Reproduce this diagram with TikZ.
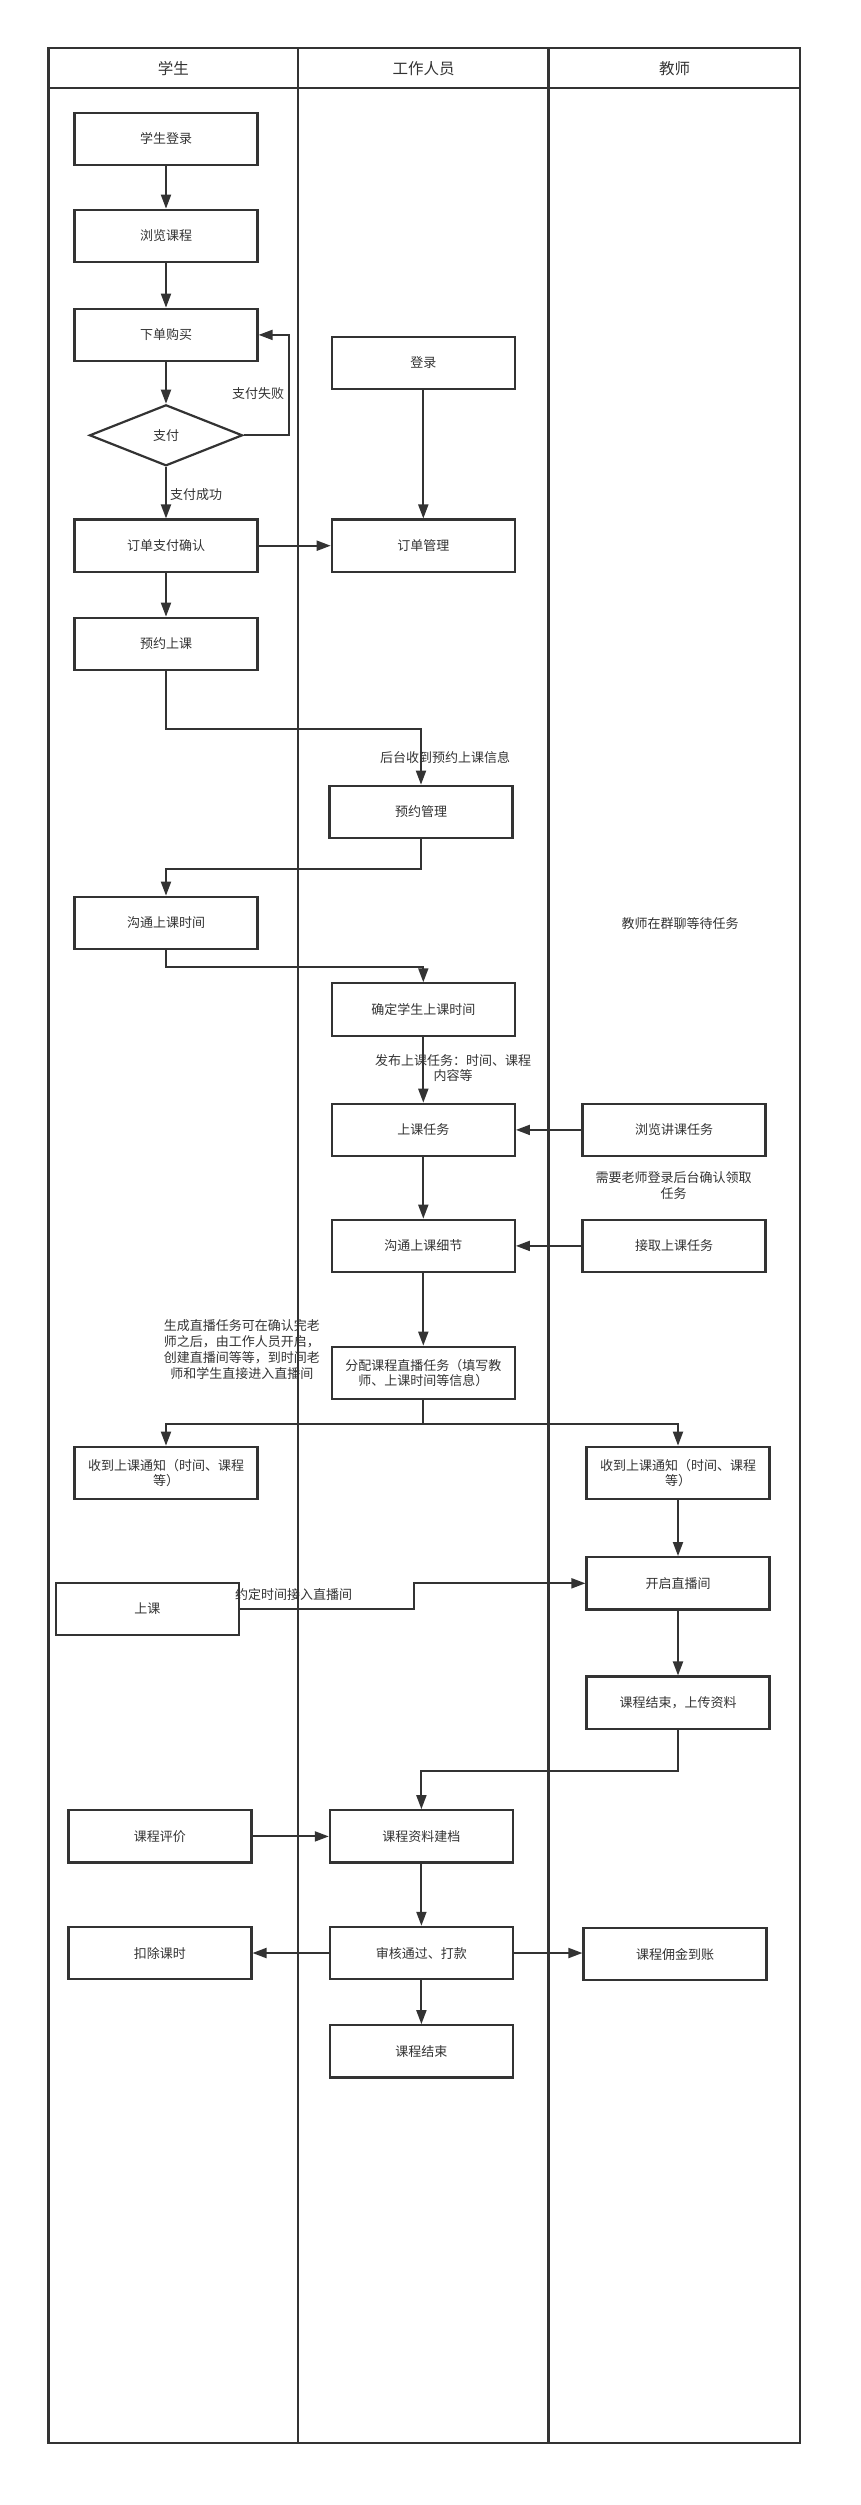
\documentclass[tikz,border=0pt]{standalone}
\usepackage{fontspec}
\setmainfont{Noto Sans CJK SC}
\usetikzlibrary{arrows.meta,shapes.geometric}
\definecolor{lc}{HTML}{333333}
\definecolor{tc}{HTML}{333333}
\newcommand{\bodyfnt}{\fontsize{13}{15.7}\selectfont}
\newcommand{\headfnt}{\fontsize{15.5}{18}\selectfont}
\tikzset{
  stepbox/.style={draw=lc, line width=2.2pt, minimum width=183pt, minimum height=52.3pt, inner sep=0pt, align=center, font=\bodyfnt, text=tc},
  decbox/.style={draw=lc, line width=2.2pt, shape=diamond, aspect=2.5, minimum width=153pt, minimum height=61pt, inner sep=0pt, font=\bodyfnt, text=tc},
  conn/.style={draw=lc, line width=1.9pt, -{Triangle[length=14pt,width=10pt]}},
  lbl/.style={font=\bodyfnt, text=tc, align=center, inner sep=0pt},
  hdr/.style={font=\headfnt, text=tc, inner sep=0pt},
  lane/.style={draw=lc, line width=2.2pt}
}
\begin{document}
\begin{tikzpicture}[x=1pt,y=-1pt]
\useasboundingbox (0,0) rectangle (860,2505);
% swimlanes
\draw[lane] (48.4,47.7) rectangle (800,2443);
\draw[lane] (48.4,87.7) -- (800,87.7);
\draw[draw=lc, line width=2pt] (298.4,47.7) -- (298.4,2443);
\draw[draw=lc, line width=3pt] (548.9,47.7) -- (548.9,2443);
\node[hdr] (h1) at (173.4,68.3) {学生};
\node[hdr] (h2) at (423.6,68.3) {工作人员};
\node[hdr] (h3) at (674.5,68.3) {教师};
% student lane
\node[stepbox] (login) at (166,138.9) {学生登录};
\node[stepbox] (browse) at (166,235.9) {浏览课程};
\node[stepbox] (order) at (166,334.9) {下单购买};
\node[decbox] (pay) at (166,435.3) {支付};
\node[stepbox] (confirm) at (166,545.7) {订单支付确认};
\node[stepbox] (book) at (166,643.9) {预约上课};
\node[stepbox] (talktime) at (166,922.9) {沟通上课时间};
\node[stepbox] (notifyL) at (166,1472.9) {收到上课通知（时间、课程\\等）};
\node[stepbox] (attend) at (147.3,1609) {上课};
\node[stepbox] (rate) at (159.9,1836.4) {课程评价};
\node[stepbox] (deduct) at (159.9,1953) {扣除课时};
% staff lane
\node[stepbox] (slogin) at (423.3,362.9) {登录};
\node[stepbox] (omgmt) at (423.3,545.7) {订单管理};
\node[stepbox] (bmgmt) at (421,811.9) {预约管理};
\node[stepbox] (settime) at (423.3,1009.5) {确定学生上课时间};
\node[stepbox] (task) at (423.3,1129.9) {上课任务};
\node[stepbox] (detail) at (423.3,1245.9) {沟通上课细节};
\node[stepbox] (assign) at (423.3,1372.9) {分配课程直播任务（填写教\\师、上课时间等信息）};
\node[stepbox] (archive) at (421.4,1836.4) {课程资料建档};
\node[stepbox] (audit) at (421.4,1953) {审核通过、打款};
\node[stepbox] (finish) at (421.4,2051.4) {课程结束};
% teacher lane
\node[stepbox] (tbrowse) at (674,1129.9) {浏览讲课任务};
\node[stepbox] (taccept) at (674,1245.9) {接取上课任务};
\node[stepbox] (notifyR) at (678,1472.9) {收到上课通知（时间、课程\\等）};
\node[stepbox] (live) at (678,1583.3) {开启直播间};
\node[stepbox] (upload) at (678,1702.7) {课程结束，上传资料};
\node[stepbox] (pay2) at (675,1954.2) {课程佣金到账};
% free texts
\node[lbl] (wait) at (680,923.3) {教师在群聊等待任务};
\node[lbl] (need) at (673.6,1185.5) {需要老师登录后台确认领取\\任务};
\node[lbl] (gen) at (241.8,1349.5) {生成直播任务可在确认完老\\师之后，由工作人员开启，\\创建直播间等等，到时间老\\师和学生直接进入直播间};
% connectors
\draw[conn] (login) -- (browse);
\draw[conn] (browse) -- (order);
\draw[conn] (order) -- (pay);
\draw[conn] (pay.east) -- ++(45,0) |- (order.east);
\node[lbl] (fail) at (258,393.3) {支付失败};
\draw[conn] (pay.south) -- (confirm.north);
\node[lbl, anchor=west] (ok) at (170,495) {支付成功};
\draw[conn] (slogin) -- (omgmt);
\draw[conn] (confirm) -- (omgmt);
\draw[conn] (confirm) -- (book);
\draw[conn] (book.south) -- ++(0,57.7) -| (bmgmt.north);
\node[lbl] (recv) at (445,757.3) {后台收到预约上课信息};
\draw[conn] (bmgmt.south) -- ++(0,29.7) -| (talktime.north);
\draw[conn] (talktime.south) -- ++(0,17) -| (settime.north);
\draw[conn] (settime) -- (task);
\node[lbl] (pub) at (453,1068) {发布上课任务：时间、课程\\内容等};
\draw[conn] (tbrowse) -- (task);
\draw[conn] (task) -- (detail);
\draw[conn] (taccept) -- (detail);
\draw[conn] (detail) -- (assign);
\draw[conn] (assign.south) -- ++(0,23.7) -| (notifyL.north);
\draw[conn] (assign.south) -- ++(0,23.7) -| (notifyR.north);
\draw[conn] (notifyR) -- (live);
\draw[conn] (attend.east) -- ++(174,0) |- (live.west);
\node[lbl] (join) at (293.5,1594.3) {约定时间接入直播间};
\draw[conn] (live) -- (upload);
\draw[conn] (upload.south) -- ++(0,41) -| (archive.north);
\draw[conn] (rate) -- (archive);
\draw[conn] (archive) -- (audit);
\draw[conn] (audit) -- (deduct);
\draw[conn] (audit.east) -- (audit.east -| pay2.west);
\draw[conn] (audit) -- (finish);
\end{tikzpicture}
\end{document}
